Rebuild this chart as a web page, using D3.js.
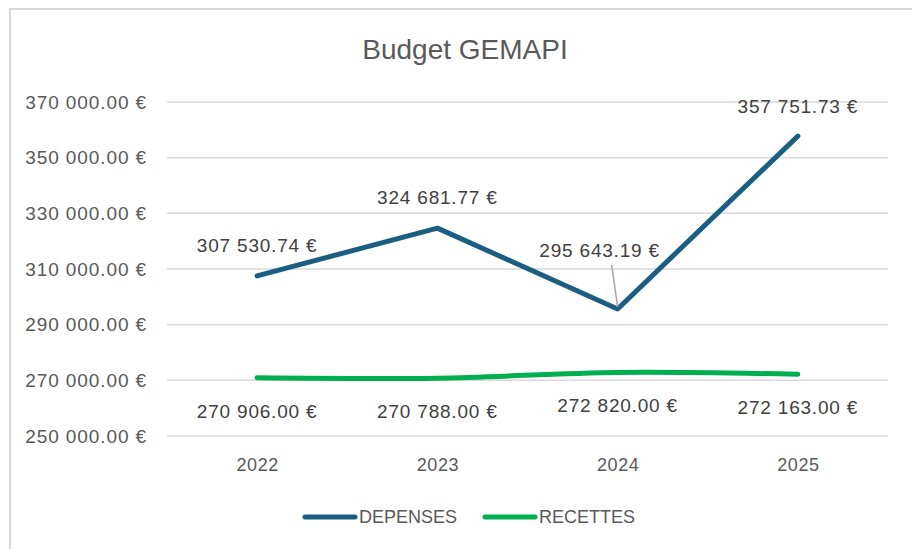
<!DOCTYPE html>
<html>
<head>
<meta charset="utf-8">
<script src="https://cdn.jsdelivr.net/npm/d3@7"></script>
<style>
  body { margin: 0; background: #fff; }
  svg { display: block; font-family: "Liberation Sans", Arial, sans-serif; }
</style>
</head>
<body>
<svg id="chart" width="912" height="549"></svg>
<script>
// data
const years = ["2022", "2023", "2024", "2025"]
const depenses = [307530.74, 324681.77, 295643.19, 357751.73]
const recettes = [270906.00, 270788.00, 272820.00, 272163.00]
const yTicks = [250000, 270000, 290000, 310000, 330000, 350000, 370000]
const seriesNames = ["DEPENSES", "RECETTES"]

const width = 912
const height = 549
const margin = ({top: 102, right: 24, bottom: 113, left: 167})

const blue = "#1b5e82"
const green = "#00b050"
const gridColor = "#d9d9d9"
const textColor = "#595959"

// excel style "370 000.00 €"
const locale = d3.formatLocale({decimal: ".", thousands: " ", grouping: [3], currency: ["", " €"]})
const fmt = locale.format("$,.2f")

const svg = d3.select("#chart")

// chart border (right and bottom edges are off the picture)
svg.append("rect")
    .attr("x", 10).attr("y", 9)
    .attr("width", width + 20).attr("height", height + 20)
    .attr("fill", "#fff")
    .attr("stroke", gridColor)
    .attr("stroke-width", 2)

const x = d3.scalePoint()
    .domain(years)
    .range([margin.left, width - margin.right])
    .padding(0.5)

const y = d3.scaleLinear()
    .domain([d3.min(yTicks), d3.max(yTicks)])
    .range([height - margin.bottom, margin.top])

// title
svg.append("text")
    .attr("x", 465).attr("y", 59)
    .attr("text-anchor", "middle")
    .attr("font-size", 28)
    .attr("fill", textColor)
    .text("Budget GEMAPI")

// gridlines
svg.append("g")
    .selectAll("line")
    .data(yTicks)
    .join("line")
    .attr("x1", margin.left).attr("x2", width - margin.right)
    .attr("y1", d => y(d)).attr("y2", d => y(d))
    .attr("stroke", gridColor)
    .attr("stroke-width", 1.5)

// y axis
svg.append("g")
    .attr("transform", `translate(${margin.left},0)`)
    .call(d3.axisLeft(y).tickValues(yTicks).tickFormat(fmt).tickSize(0).tickPadding(20))
    .call(g => g.select(".domain").remove())
    .call(g => g.selectAll("text")
        .attr("font-family", "Liberation Sans, Arial, sans-serif")
        .attr("font-size", 19)
        .attr("letter-spacing", 0.9)
        .attr("fill", textColor))

// x axis
svg.append("g")
    .attr("transform", `translate(0,${height - margin.bottom})`)
    .call(d3.axisBottom(x).tickSize(0).tickPadding(22))
    .call(g => g.select(".domain").remove())
    .call(g => g.selectAll("text")
        .attr("font-family", "Liberation Sans, Arial, sans-serif")
        .attr("font-size", 18)
        .attr("letter-spacing", 0.6)
        .attr("fill", textColor))

// lines
const lineDep = d3.line()
    .x((d, i) => x(years[i]))
    .y(d => y(d))

const lineRec = d3.line()
    .x((d, i) => x(years[i]))
    .y(d => y(d))
    .curve(d3.curveCatmullRom)

svg.append("path")
    .datum(recettes)
    .attr("fill", "none")
    .attr("stroke", green)
    .attr("stroke-width", 5)
    .attr("stroke-linecap", "round")
    .attr("stroke-linejoin", "round")
    .attr("d", lineRec)

svg.append("path")
    .datum(depenses)
    .attr("fill", "none")
    .attr("stroke", blue)
    .attr("stroke-width", 5)
    .attr("stroke-linecap", "round")
    .attr("stroke-linejoin", "round")
    .attr("d", lineDep)

// data labels; the 2024 depenses label was dragged off the point in excel
const depOffsets = [[0, -24], [0, -24], [-18, -52], [0, -23]]
const recOffsets = [[0, 40], [0, 40], [0, 40], [0, 40]]

// leader line for the moved label
const moved = 2
svg.append("line")
    .attr("x1", x(years[moved]) + depOffsets[moved][0] + 12)
    .attr("y1", y(depenses[moved]) + depOffsets[moved][1] + 8)
    .attr("x2", x(years[moved]))
    .attr("y2", y(depenses[moved]) - 2)
    .attr("stroke", "#a6a6a6")
    .attr("stroke-width", 1.5)

svg.append("g")
    .selectAll("text")
    .data(depenses)
    .join("text")
    .attr("x", (d, i) => x(years[i]) + depOffsets[i][0])
    .attr("y", (d, i) => y(d) + depOffsets[i][1])
    .attr("text-anchor", "middle")
    .attr("font-size", 19)
    .attr("letter-spacing", 0.8)
    .attr("fill", "#404040")
    .text(d => fmt(d))

svg.append("g")
    .selectAll("text")
    .data(recettes)
    .join("text")
    .attr("x", (d, i) => x(years[i]) + recOffsets[i][0])
    .attr("y", (d, i) => y(d) + recOffsets[i][1])
    .attr("text-anchor", "middle")
    .attr("font-size", 19)
    .attr("letter-spacing", 0.8)
    .attr("fill", "#404040")
    .text(d => fmt(d))

// legend
const legend = svg.append("g")
    .selectAll("g")
    .data(seriesNames)
    .join("g")
    .attr("transform", (d, i) => `translate(${[305, 485][i]},517)`)

legend.append("line")
    .attr("x1", 0).attr("x2", 50)
    .attr("stroke", (d, i) => [blue, green][i])
    .attr("stroke-width", 5)
    .attr("stroke-linecap", "round")

legend.append("text")
    .attr("x", 54)
    .attr("dy", "0.36em")
    .attr("font-size", 18)
    .attr("fill", textColor)
    .text(d => d)
</script>
</body>
</html>
